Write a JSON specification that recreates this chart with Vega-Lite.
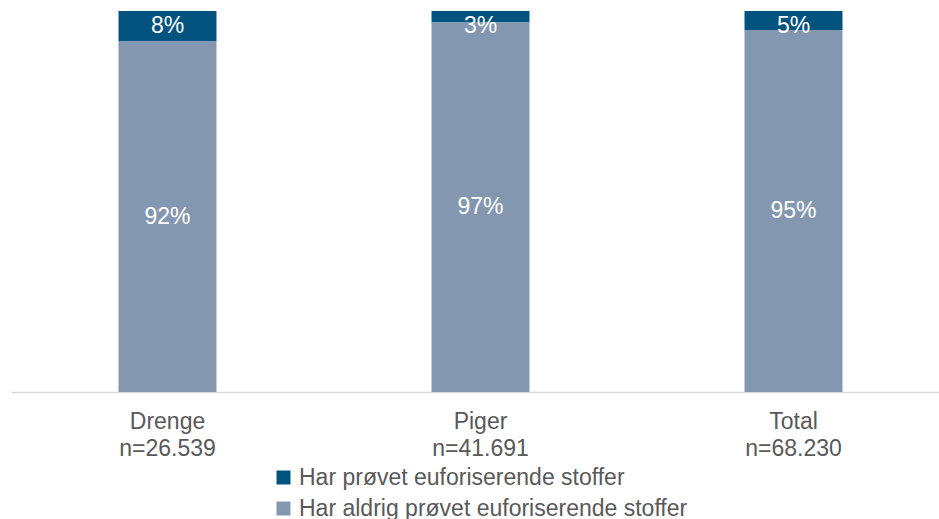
{
  "$schema": "https://vega.github.io/schema/vega-lite/v6.json",
  "width": 939,
  "height": 381,
  "autosize": {"type": "none"},
  "padding": {"left": 11, "top": 11, "right": 0, "bottom": 127},
  "background": "white",
  "config": {
    "view": {"stroke": null},
    "font": "Liberation Sans"
  },
  "data": {
    "values": [
      {"gruppe": "Drenge|n=26.539", "serie": "Har prøvet euforiserende stoffer", "andel": 0.08, "ord": 2},
      {"gruppe": "Drenge|n=26.539", "serie": "Har aldrig prøvet euforiserende stoffer", "andel": 0.92, "ord": 1},
      {"gruppe": "Piger|n=41.691", "serie": "Har prøvet euforiserende stoffer", "andel": 0.03, "ord": 2},
      {"gruppe": "Piger|n=41.691", "serie": "Har aldrig prøvet euforiserende stoffer", "andel": 0.97, "ord": 1},
      {"gruppe": "Total|n=68.230", "serie": "Har prøvet euforiserende stoffer", "andel": 0.05, "ord": 2},
      {"gruppe": "Total|n=68.230", "serie": "Har aldrig prøvet euforiserende stoffer", "andel": 0.95, "ord": 1}
    ]
  },
  "encoding": {
    "x": {
      "field": "gruppe",
      "type": "nominal",
      "sort": ["Drenge|n=26.539", "Piger|n=41.691", "Total|n=68.230"],
      "scale": {"paddingInner": 0.687, "paddingOuter": 0.3435},
      "axis": {
        "title": null,
        "labelAngle": 0,
        "labelExpr": "split(datum.label, '|')",
        "labelFontSize": 23,
        "labelLineHeight": 27,
        "labelColor": "#595959",
        "labelPadding": 18,
        "labelBaseline": "top",
        "ticks": false,
        "domainColor": "#d9d9d9",
        "domainWidth": 1.5,
        "grid": false
      }
    }
  },
  "layer": [
    {
      "mark": {"type": "bar"},
      "encoding": {
        "y": {
          "field": "andel",
          "type": "quantitative",
          "stack": "zero",
          "scale": {"domain": [0, 1]},
          "axis": null
        },
        "order": {"field": "ord", "type": "quantitative"},
        "color": {
          "field": "serie",
          "type": "nominal",
          "sort": ["Har prøvet euforiserende stoffer", "Har aldrig prøvet euforiserende stoffer"],
          "scale": {
            "domain": ["Har prøvet euforiserende stoffer", "Har aldrig prøvet euforiserende stoffer"],
            "range": ["#02537e", "#8497b0"]
          },
          "legend": {
            "title": null,
            "orient": "none",
            "legendX": 261,
            "legendY": 455,
            "direction": "vertical",
            "symbolType": "square",
            "symbolSize": 196,
            "symbolStrokeWidth": 0,
            "labelFontSize": 23,
            "labelLimit": 0,
            "labelColor": "#595959",
            "labelOffset": 4,
            "rowPadding": 7,
            "padding": 0
          }
        }
      }
    },
    {
      "transform": [{"filter": "datum.ord == 1"}],
      "mark": {"type": "text", "color": "white", "fontSize": 23, "baseline": "middle"},
      "encoding": {
        "y": {"field": "andel", "type": "quantitative", "scale": {"domain": [0, 1]}, "bandPosition": 0.5, "stack": "zero"},
        "text": {"field": "andel", "type": "quantitative", "format": ".0%"}
      }
    },
    {
      "transform": [{"filter": "datum.ord == 2"}],
      "mark": {"type": "text", "color": "white", "fontSize": 23, "baseline": "top", "dy": 4},
      "encoding": {
        "y": {"datum": 1, "type": "quantitative", "scale": {"domain": [0, 1]}},
        "text": {"field": "andel", "type": "quantitative", "format": ".0%"}
      }
    }
  ]
}
